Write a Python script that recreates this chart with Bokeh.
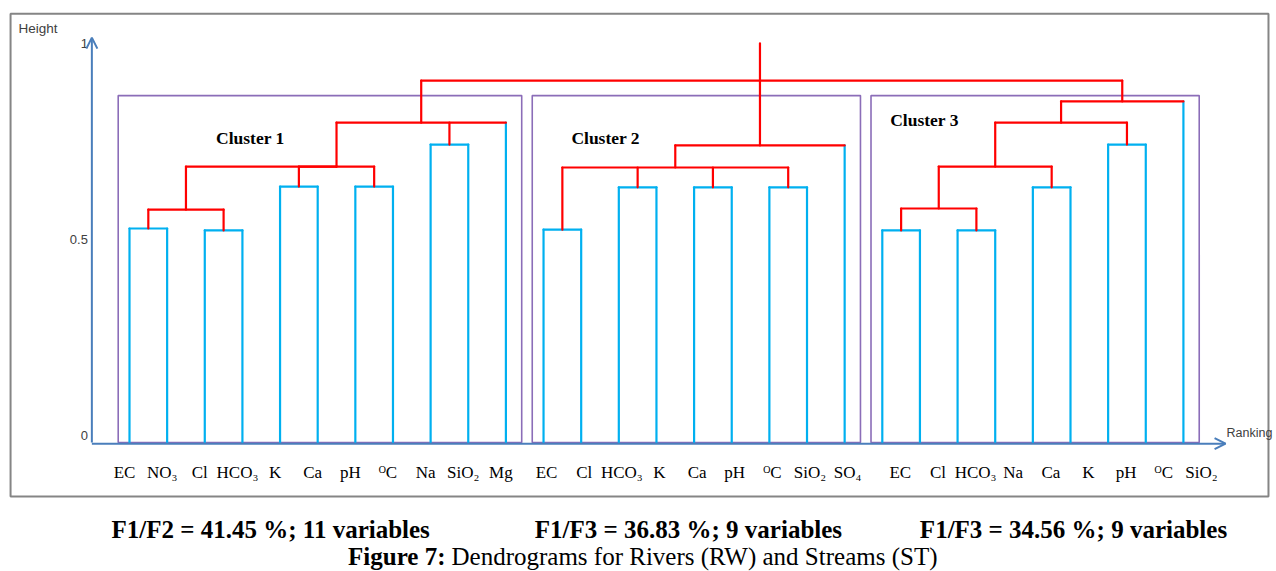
from bokeh.plotting import figure
from bokeh.models import Range1d, Arrow, OpenHead
from bokeh.core.properties import value
from bokeh.embed import file_html
from bokeh.resources import INLINE

# ---------------- data ----------------
labels_c1 = ["EC", "NO₃", "Cl", "HCO₃", "K", "Ca", "pH", "ᴼC", "Na", "SiO₂", "Mg"]
labels_c2 = ["EC", "Cl", "HCO₃", "K", "Ca", "pH", "ᴼC", "SiO₂", "SO₄"]
labels_c3 = ["EC", "Cl", "HCO₃", "Na", "Ca", "K", "pH", "ᴼC", "SiO₂"]
cluster_names = ["Cluster 1", "Cluster 2", "Cluster 3"]

# merge heights (linkage distances)
h_c1 = [0.546, 0.541, 0.594, 0.653, 0.653, 0.704, 0.704, 0.760, 0.816]
h_c2 = [0.543, 0.651, 0.651, 0.651, 0.7015, 0.758]
h_c3 = [0.541, 0.541, 0.597, 0.651, 0.704, 0.760, 0.816, 0.870]
h_root = 0.923
h_root_top = 1.018

y_ticks = [0, 0.5, 1]
y_tick_labels = ["0", "0.5", "1"]

captions = ["F1/F2 = 41.45 %; 11 variables",
            "F1/F3 = 36.83 %; 9 variables",
            "F1/F3 = 34.56 %; 9 variables"]
fig_caption_bold = "Figure 7:"
fig_caption_rest = "Dendrograms for Rivers (RW) and Streams (ST)"

# ---------------- styles ----------------
BLUE = "#00B0F0"
RED = "#FF0000"
PURPLE = "#8B6DB8"
AXIS = "#4A7EBB"
GRAY = "#858585"
SERIF = "Liberation Serif"
SANS = "Liberation Sans"


def N(h, *children, stem=None):
    return {"h": h, "c": list(children), "stem": stem}


tree1 = N(h_c1[8],
          N(h_c1[6],
            N(h_c1[2], N(h_c1[0], 0, 1), N(h_c1[1], 2, 3)),
            N(h_c1[5], N(h_c1[3], 4, 5), N(h_c1[4], 6, 7)),
            stem=1),
          N(h_c1[7], 8, 9),
          10)
tree2 = N(h_c2[5],
          N(h_c2[4], N(h_c2[0], 0, 1), N(h_c2[1], 2, 3),
            N(h_c2[2], 4, 5), N(h_c2[3], 6, 7)),
          8)
tree3 = N(h_c3[7],
          N(h_c3[6],
            N(h_c3[4],
              N(h_c3[2], N(h_c3[0], 0, 1), N(h_c3[1], 2, 3)),
              N(h_c3[3], 4, 5)),
            N(h_c3[5], 6, 7)),
          8)


def shift(t, off):
    if isinstance(t, int):
        return t + off
    return {"h": t["h"], "c": [shift(c, off) for c in t["c"]], "stem": t["stem"]}


all_labels = [labels_c1, labels_c2, labels_c3]
offsets = [0, len(labels_c1), len(labels_c1) + len(labels_c2)]
root = N(h_root, *[shift(t, o) for t, o in zip([tree1, tree2, tree3], offsets)], stem=1)

segs = {"x0": [], "y0": [], "x1": [], "y1": [], "color": []}


def add(x0, y0, x1, y1, c):
    segs["x0"].append(x0); segs["y0"].append(y0)
    segs["x1"].append(x1); segs["y1"].append(y1)
    segs["color"].append(c)


def draw(t):
    if isinstance(t, int):
        return (t + 1, 0.0, True)
    kids = [draw(c) for c in t["c"]]
    h = t["h"]
    for x, hc, leaf in kids:
        add(x, hc, x, h, BLUE if leaf else RED)
    xs = [k[0] for k in kids]
    add(min(xs), h, max(xs), h, BLUE if all(k[2] for k in kids) else RED)
    if t["stem"] is not None:
        xn = kids[t["stem"]][0]
    else:
        xn = (min(xs) + max(xs)) / 2
    return (xn, h, False)


xr, hr, _ = draw(root)
add(xr, hr, xr, h_root_top, RED)

# ---------------- figure ----------------
p = figure(width=1276, height=571,
           x_range=Range1d(-2.4272, 31.473), y_range=Range1d(-0.3291, 1.1276),
           x_axis_type=None, y_axis_type=None, title=None,
           toolbar_location=None, output_backend="svg", min_border=0)
p.outline_line_color = None
p.background_fill_color = "white"

# outer gray border
p.quad(left=[-2.16], right=[31.26], bottom=[-0.138], top=[1.094],
       fill_alpha=0, line_color=GRAY, line_width=2)

# cluster boxes
box_top = 0.885
for lab, off in zip(all_labels, offsets):
    p.quad(left=[off + 1 - 0.3], right=[off + len(lab) + 0.42], bottom=[0], top=[box_top],
           fill_alpha=0, line_color=PURPLE, line_width=1.6)

# dendrogram
p.segment(x0="x0", y0="y0", x1="x1", y1="y1", color="color", source=segs,
          line_width=2.2, line_cap="round")

# axes with arrows
p.add_layout(Arrow(end=OpenHead(size=11, line_color=AXIS, line_width=2),
                   x_start=0, y_start=0, x_end=0, y_end=1.033,
                   line_color=AXIS, line_width=2))
p.add_layout(Arrow(end=OpenHead(size=11, line_color=AXIS, line_width=2),
                   x_start=0, y_start=-0.003, x_end=30.12, y_end=-0.003,
                   line_color=AXIS, line_width=2))

# y tick labels
p.text(x=[0] * len(y_ticks), y=y_ticks, text=y_tick_labels,
       text_font=value(SANS), text_font_size="13px", text_color="#404040",
       text_align="right", text_baseline="middle", x_offset=-4, y_offset=-7)
p.text(x=[-1.95], y=[1.056], text=["Height"], text_font=value(SANS),
       text_font_size="13.5px", text_color="#404040",
       text_align="left", text_baseline="middle")
p.text(x=[30.12], y=[0], text=["Ranking"], text_font=value(SANS),
       text_font_size="12.5px", text_color="#404040",
       text_align="left", text_baseline="middle", x_offset=1, y_offset=-9)

# leaf labels
label_dx = [-5, 3, 18]
for lab, off, dx in zip(all_labels, offsets, label_dx):
    p.text(x=[off + i + 1 for i in range(len(lab))], y=[0] * len(lab), text=lab,
           text_font=value(SERIF), text_font_size="17px", text_color="black",
           text_align="center", text_baseline="middle", x_offset=dx, y_offset=30)

# cluster titles
p.text(x=[4.21, 13.65, 22.12], y=[0.778, 0.778, 0.824], text=cluster_names,
       text_font=value(SERIF), text_font_size="17.5px", text_font_style="bold",
       text_color="black", text_align="center", text_baseline="middle")

# captions
p.text(x=[4.75, 15.85, 26.08], y=[-0.222] * 3, text=captions,
       text_font=value(SERIF), text_font_size="25px", text_font_style="bold",
       text_color="black", text_align="center", text_baseline="middle")
p.text(x=[9.395], y=[-0.291], text=[fig_caption_bold],
       text_font=value(SERIF), text_font_size="25px", text_font_style="bold",
       text_color="black", text_align="right", text_baseline="middle")
p.text(x=[9.395], y=[-0.291], text=[fig_caption_rest],
       text_font=value(SERIF), text_font_size="25px",
       text_color="black", text_align="left", text_baseline="middle", x_offset=6)

open("out.html", "w").write(file_html(p, INLINE))
